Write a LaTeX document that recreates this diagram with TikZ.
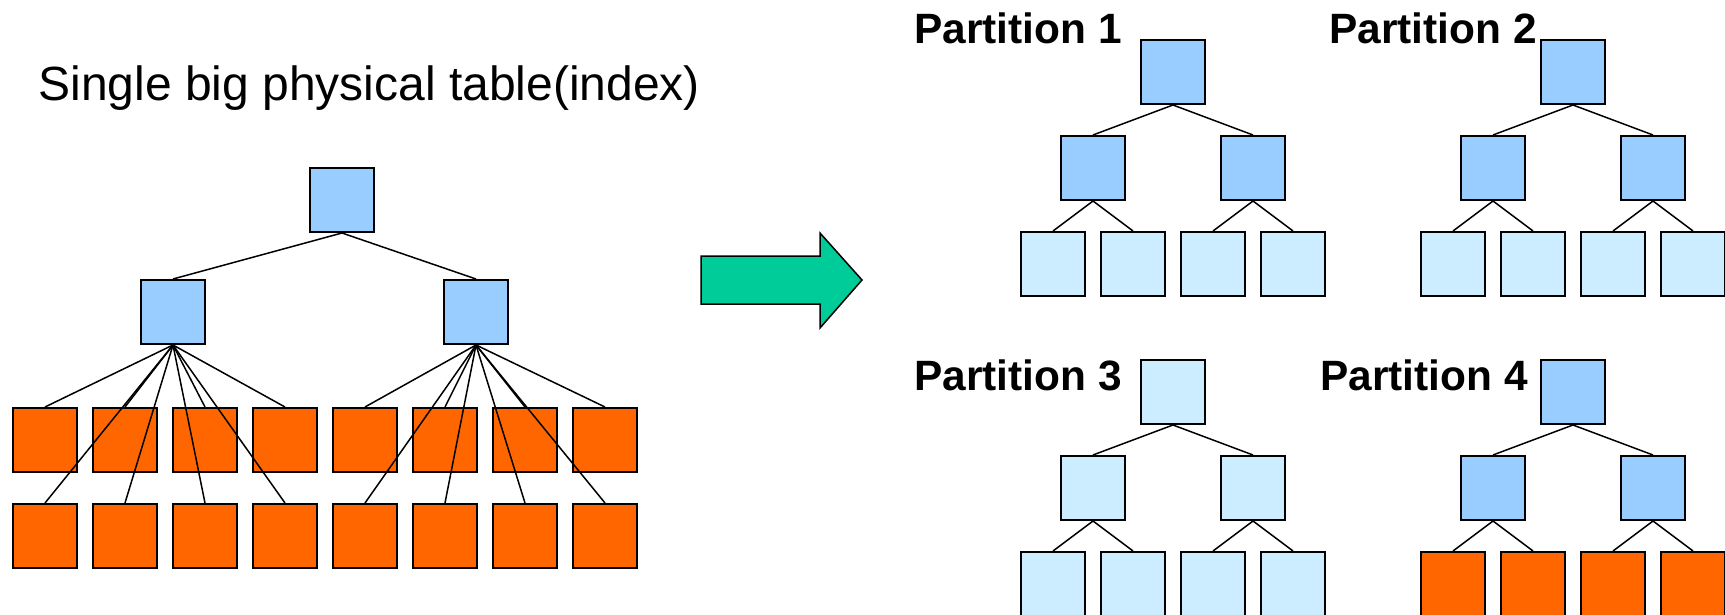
\documentclass[tikz,border=0pt]{standalone}
\usepackage{fontspec}
\setmainfont{Liberation Sans}
\usetikzlibrary{positioning}
\definecolor{treeblue}{HTML}{99CCFF}
\definecolor{treelight}{HTML}{CCECFF}
\definecolor{leaforange}{HTML}{FF6600}
\definecolor{arrowgreen}{HTML}{00CC99}
\tikzset{
  bbox/.style={draw, line width=1pt, minimum width=32pt, minimum height=32pt, inner sep=0pt},
  link/.style={line width=0.75pt},
  lbl/.style={inner sep=0pt, anchor=base west},
  plbl/.style={lbl, font=\fontsize{21.2}{25}\selectfont\bfseries}
}
\begin{document}
\begin{tikzpicture}[x=0.5pt, y=-0.5pt]
\useasboundingbox (0,0) rectangle (1725,615);

% Single table
\node[lbl, font=\fontsize{24}{28}\selectfont] (title) at (38,101) {Single big physical table(index)};
\node[bbox, fill=treeblue] (root) at (342,200) {};
\node[bbox, fill=treeblue] (midl) at (173,312) {};
\node[bbox, fill=treeblue] (midr) at (476,312) {};
\foreach \i in {1,...,8} {
  \node[bbox, fill=leaforange] (top\i) at ({45+80*(\i-1)},440) {};
  \node[bbox, fill=leaforange] (bot\i) at ({45+80*(\i-1)},536) {};
}
\draw[link] (root.south) -- (midl.north);
\draw[link] (root.south) -- (midr.north);
\foreach \i in {1,...,4} {
  \draw[link] (midl.south) -- (top\i.north);
  \draw[link] (midl.south) -- (bot\i.north);
}
\foreach \i in {5,...,8} {
  \draw[link] (midr.south) -- (top\i.north);
  \draw[link] (midr.south) -- (bot\i.north);
}

% Arrow
\draw[fill=arrowgreen, line width=0.75pt] (701,256) -- (820,256) -- (820,233)
    -- (862,280) -- (820,328) -- (820,304) -- (701,304) -- cycle;

% Partitions
\foreach \p/\px/\py/\cr/\cl in {1/1173/72/treeblue/treelight, 2/1573/72/treeblue/treelight,
    3/1173/392/treelight/treelight, 4/1573/392/treeblue/leaforange} {
  \node[bbox, fill=\cr] (r\p) at (\px,\py) {};
  \node[bbox, fill=\cr] (ma\p) at ({\px-80},{\py+96}) {};
  \node[bbox, fill=\cr] (mb\p) at ({\px+80},{\py+96}) {};
  \foreach \j in {1,...,4}
    \node[bbox, fill=\cl] (l\p-\j) at ({\px-200+80*\j},{\py+192}) {};
  \draw[link] (r\p.south) -- (ma\p.north);
  \draw[link] (r\p.south) -- (mb\p.north);
  \draw[link] (ma\p.south) -- (l\p-1.north);
  \draw[link] (ma\p.south) -- (l\p-2.north);
  \draw[link] (mb\p.south) -- (l\p-3.north);
  \draw[link] (mb\p.south) -- (l\p-4.north);
}
\node[plbl] (part1) at (914,44) {Partition 1};
\node[plbl] (part2) at (1329,44) {Partition 2};
\node[plbl] (part3) at (914,390) {Partition 3};
\node[plbl] (part4) at (1320,390) {Partition 4};
\end{tikzpicture}
\end{document}
